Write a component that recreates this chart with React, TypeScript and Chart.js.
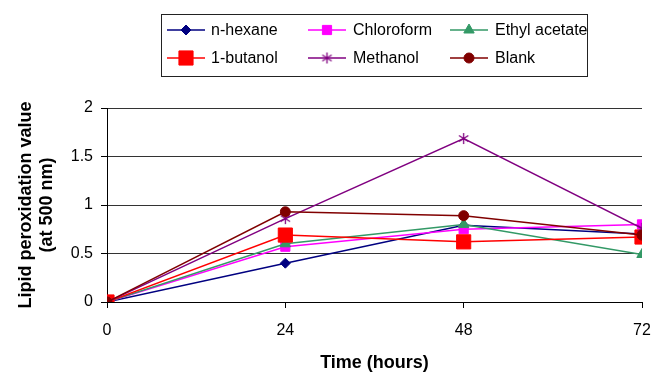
import React, { useEffect, useRef } from "react";
import { Chart, registerables } from "chart.js";
import { drawPoint } from "chart.js/helpers";

Chart.register(...registerables);

const hours = [0, 24, 48, 72];
const seriesNames = ["n-hexane", "Chloroform", "Ethyl acetate", "1-butanol", "Methanol", "Blank"];
const nHexane = [0, 0.40, 0.79, 0.70];
const chloroform = [0, 0.57, 0.75, 0.80];
const ethylAcetate = [0, 0.60, 0.80, 0.49];
const butanol = [0, 0.69, 0.62, 0.67];
const methanol = [0, 0.86, 1.685, 0.76];
const blank = [0, 0.93, 0.89, 0.69];
const yTicks = [0, 0.5, 1, 1.5, 2];
const xTicks = [0, 24, 48, 72];

const seriesValues = [nHexane, chloroform, ethylAcetate, butanol, methanol, blank];
const colors = ["#000080", "#FF00FF", "#339966", "#FF0000", "#800080", "#800000"];
const pointStyles = ["rectRot", "rect", "triangle", "rect", "asterisk", "circle"];
const pointRadii = [5, 6.5, 6, 10, 5, 5];

const FONT = "'Liberation Sans', Arial, sans-serif";

function makeAsterisk(color: string) {
  const c = document.createElement("canvas");
  c.width = 13;
  c.height = 13;
  const g = c.getContext("2d")!;
  g.strokeStyle = color;
  g.lineWidth = 1.3;
  g.beginPath();
  g.moveTo(6.5, 1);
  g.lineTo(6.5, 12);
  g.moveTo(1.8, 3.5);
  g.lineTo(11.2, 9.5);
  g.moveTo(11.2, 3.5);
  g.lineTo(1.8, 9.5);
  g.stroke();
  return c;
}

const legendPlugin = {
  id: "boxLegend",
  afterDraw(chart: any) {
    const ctx = chart.ctx;
    ctx.save();
    ctx.strokeStyle = "#222";
    ctx.lineWidth = 1;
    ctx.strokeRect(161.5, 14.5, 426, 62);
    const lineX = [167, 308, 450];
    const textX = [211, 353, 495];
    const rowY = [30, 58];
    chart.data.datasets.forEach((ds: any, i: number) => {
      const col = i % 3;
      const row = Math.floor(i / 3);
      const y = rowY[row];
      const x0 = lineX[col];
      ctx.strokeStyle = ds.borderColor;
      ctx.lineWidth = 1.5;
      ctx.beginPath();
      ctx.moveTo(x0, y);
      ctx.lineTo(x0 + 38, y);
      ctx.stroke();
      ctx.fillStyle = ds.pointBackgroundColor;
      ctx.strokeStyle = ds.pointBorderColor;
      ctx.lineWidth = ds.pointBorderWidth;
      drawPoint(ctx, { pointStyle: ds.pointStyle, radius: ds.pointRadius, rotation: 0, borderWidth: ds.pointBorderWidth }, x0 + 19, y);
      ctx.fillStyle = "#000";
      ctx.font = `16px ${FONT}`;
      ctx.textBaseline = "middle";
      ctx.textAlign = "left";
      ctx.fillText(ds.label, textX[col], y + 1);
    });
    ctx.restore();
  },
};

export default function App() {
  const ref = useRef<HTMLCanvasElement>(null);
  useEffect(() => {
    document.body.style.margin = "0";
    const datasets = seriesNames.map((name, i) => ({
      label: name,
      data: hours.map((h, j) => ({ x: h, y: seriesValues[i][j] })),
      borderColor: colors[i],
      backgroundColor: colors[i],
      pointBackgroundColor: colors[i],
      pointBorderColor: colors[i],
      pointBorderWidth: 1,
      pointStyle: pointStyles[i] === "asterisk" ? makeAsterisk(colors[i]) : pointStyles[i],
      pointRadius: pointRadii[i],
      borderWidth: 1.5,
      tension: 0,
      fill: false,
      order: seriesNames.length - i,
    }));
    const chart = new Chart(ref.current!, {
      type: "line",
      data: { datasets },
      options: {
        animation: false,
        responsive: false,
        maintainAspectRatio: false,
        layout: { padding: { top: 108, right: 13, left: 0, bottom: 0 } },
        plugins: { legend: { display: false }, tooltip: { enabled: false } },
        scales: {
          x: {
            type: "linear",
            min: 0,
            max: 72,
            afterBuildTicks: (s: any) => {
              s.ticks = xTicks.map((v) => ({ value: v }));
            },
            afterFit: (s: any) => {
              s.height = 72;
              s.paddingRight = 0;
              s.paddingLeft = 0;
            },
            ticks: { color: "#000", font: { family: FONT, size: 16 }, padding: 13, maxRotation: 0, callback: (v: any) => String(v) },
            grid: { drawOnChartArea: false, drawTicks: true, tickLength: 6, tickColor: "#000", color: "#000" },
            border: { display: true, color: "#000", width: 1 },
            title: {
              display: true,
              text: "Time (hours)",
              color: "#000",
              font: { family: FONT, size: 18, weight: "bold" },
              padding: { top: 0, bottom: 0 },
            },
          },
          y: {
            type: "linear",
            min: 0,
            max: 2,
            afterBuildTicks: (s: any) => {
              s.ticks = yTicks.map((v) => ({ value: v }));
            },
            afterFit: (s: any) => {
              s.width = 107;
            },
            ticks: { color: "#000", font: { family: FONT, size: 16 }, padding: 8, callback: (v: any) => String(v) },
            grid: { drawOnChartArea: true, drawTicks: true, tickLength: 6, tickColor: "#000", color: "#333" },
            border: { display: true, color: "#000", width: 1 },
            title: {
              display: true,
              text: ["Lipid peroxidation value", "(at 500 nm)"],
              color: "#000",
              font: { family: FONT, size: 18, weight: "bold" },
              padding: { top: 15, bottom: 0 },
            },
          },
        },
      },
      plugins: [legendPlugin],
    });
    return () => chart.destroy();
  }, []);
  return (
    <div style={{ width: 655, height: 374, background: "#fff" }}>
      <canvas ref={ref} width={655} height={374} style={{ display: "block" }} />
    </div>
  );
}
